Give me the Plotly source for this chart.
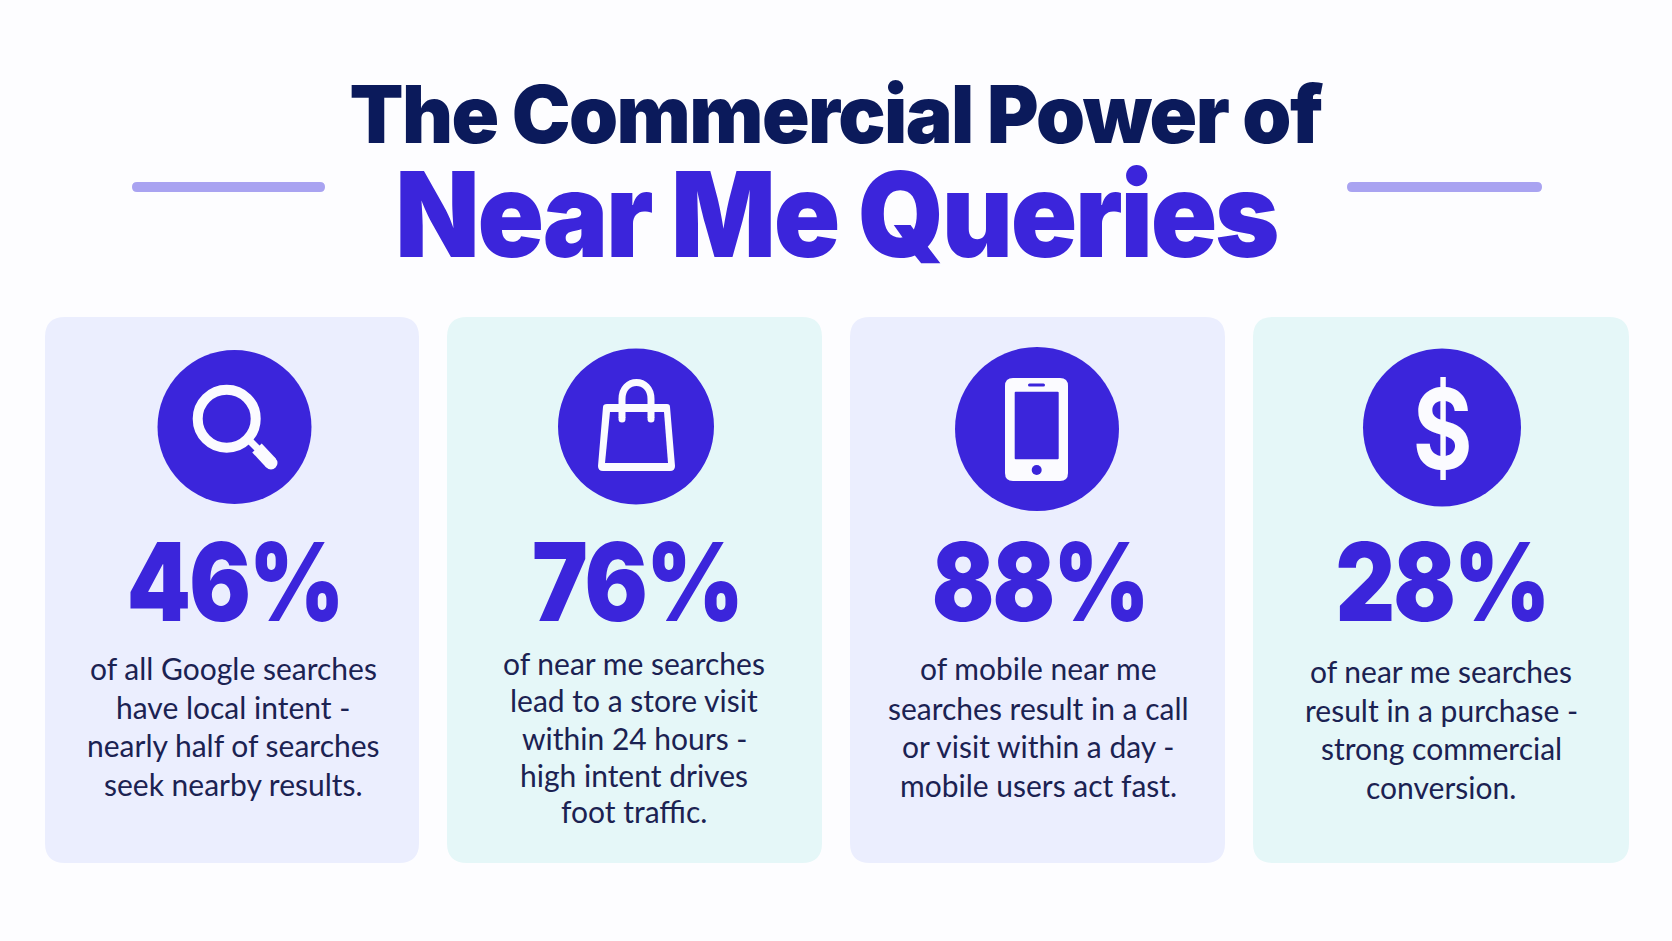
import json

import plotly.graph_objects as go

# chart content
title_top = 'The Commercial Power of'
title_main = 'Near Me Queries'
percents = ['46%', '76%', '88%', '28%']
card1_lines = ['of all Google searches', 'have local intent -', 'nearly half of searches', 'seek nearby results.']
card2_lines = ['of near me searches', 'lead to a store visit', 'within 24 hours -', 'high intent drives', 'foot traffic.']
card3_lines = ['of mobile near me', 'searches result in a call', 'or visit within a day -', 'mobile users act fast.']
card4_lines = ['of near me searches', 'result in a purchase -', 'strong commercial', 'conversion.']

# colours
BG = '#FDFDFF'
VIOLET = '#3B25DB'
NAVY = '#0B1A5B'
BODY = '#1B2252'
LILAC = '#A9A3F1'
CARD_A = '#EBEEFE'
CARD_B = '#E5F7F8'
WHITE = '#FBFBFF'

# layout, pixels of the 1672x941 page
W, H = 1672, 941
card_x = [(45, 419), (447, 822), (850, 1225), (1253, 1629)]
card_y = (317, 863)
card_fill = [CARD_A, CARD_B, CARD_A, CARD_B]
circles = [(234.5, 427, 77), (636, 426.5, 78), (1037, 429, 82), (1442, 427.5, 79)]
pct_x = [234, 637, 1039, 1442]
pct_w = [216, 210, 216, 213]
line_x = [233, 634, 1038, 1441]
line_y = [
    [668, 707, 745, 784],
    [663, 700, 738, 775, 811],
    [668, 708, 746, 785],
    [671, 710, 748, 787],
]
card_lines = [card1_lines, card2_lines, card3_lines, card4_lines]


def rounded_rect(x0, y0, x1, y1, r):
    return (f'M {x0 + r} {y0} L {x1 - r} {y0} Q {x1} {y0} {x1} {y0 + r} '
            f'L {x1} {y1 - r} Q {x1} {y1} {x1 - r} {y1} '
            f'L {x0 + r} {y1} Q {x0} {y1} {x0} {y1 - r} '
            f'L {x0} {y0 + r} Q {x0} {y0} {x0 + r} {y0} Z')


def fill_path(path, color):
    return dict(type='path', path=path, fillcolor=color, line_width=0, layer='between')


def disc(cx, cy, r, color):
    return dict(type='circle', x0=cx - r, x1=cx + r, y0=cy - r, y1=cy + r,
                fillcolor=color, line_width=0, layer='between')


def ring(cx, cy, r, width, color):
    return dict(type='circle', x0=cx - r, x1=cx + r, y0=cy - r, y1=cy + r,
                fillcolor='rgba(0,0,0,0)', line=dict(color=color, width=width), layer='between')


def stroke(path, width, color):
    return dict(type='path', path=path, fillcolor='rgba(0,0,0,0)',
                line=dict(color=color, width=width), layer='between')


shapes = []

# rules beside the heading
shapes.append(fill_path(rounded_rect(132, 182, 325, 192, 5), LILAC))
shapes.append(fill_path(rounded_rect(1347, 182, 1542, 192, 5), LILAC))

# cards and circles
for (x0, x1), fill in zip(card_x, card_fill):
    shapes.append(fill_path(rounded_rect(x0, card_y[0], x1, card_y[1], 20), fill))
for cx, cy, r in circles:
    shapes.append(disc(cx, cy, r, VIOLET))

# magnifier
shapes.append(ring(226.7, 418.7, 29, 10, WHITE))
shapes.append(stroke('M 249 440 L 260 451', 7, WHITE))
shapes.append(stroke('M 257 448 L 271 463', 13, WHITE))
shapes.append(disc(271, 463, 6.5, WHITE))

# bag
shapes.append(fill_path('M 607 404 L 667 404 Q 670 404 670 407 L 675 466 Q 675 471 670 471 '
                        'L 603 471 Q 598 471 598 466 L 603 407 Q 603 404 607 404 Z', WHITE))
shapes.append(fill_path('M 610 412 L 664 412 L 668 463 L 605 463 Z', VIOLET))
shapes.append(stroke('M 622 418 L 622 399 C 622 377 651 377 651 399 L 651 418', 7, WHITE))
shapes.append(disc(622, 419, 3.5, WHITE))
shapes.append(disc(651, 419, 3.5, WHITE))

# phone
shapes.append(fill_path(rounded_rect(1005, 378, 1068, 481, 8), WHITE))
shapes.append(fill_path(rounded_rect(1014.7, 391.7, 1058.7, 459.3, 1), VIOLET))
shapes.append(fill_path(rounded_rect(1028, 383.5, 1045, 386.5, 1.5), VIOLET))
shapes.append(disc(1036.7, 470, 5, VIOLET))

annotations = []


def add_text(text, x, y, size, color, family='Inter', weight=400):
    annotations.append(dict(text=text, x=x, y=y, xref='x', yref='y', showarrow=False,
                            xanchor='center', yanchor='middle',
                            font=dict(family=family, size=size, color=color, weight=weight)))


add_text(title_top, 835, 113, 80, NAVY, weight=900)
add_text(title_main, 836, 214, 118, VIOLET, weight=900)

for pct, x in zip(percents, pct_x):
    add_text(pct, x, 581, 108, VIOLET, weight=900)
add_text('$', 1441.5, 428, 112, WHITE, weight=700)

for lines, x, ys in zip(card_lines, line_x, line_y):
    for text, y in zip(lines, ys):
        add_text(text, x, y, 30, BODY, family='Lato')

fig = go.Figure()
fig.update_layout(
    width=W, height=H,
    margin=dict(l=0, r=0, t=0, b=0),
    paper_bgcolor=BG, plot_bgcolor=BG,
    xaxis=dict(range=[0, W], visible=False, fixedrange=True),
    yaxis=dict(range=[H, 0], visible=False, fixedrange=True),
    shapes=shapes,
    annotations=annotations,
    showlegend=False,
)

# the reference fonts are narrower than Inter, so fit each big text to its measured width
fit_width = {title_top: 972, title_main: 882, '$': 58}
fit_width.update(zip(percents, pct_w))
tighten = """
document.body.style.margin = '0';
var fit = %s;
document.querySelectorAll('.annotation-text').forEach(function (t) {
    var w = fit[t.textContent];
    if (w) {
        t.style.letterSpacing = '-0.02em';
        t.setAttribute('textLength', w);
        t.setAttribute('lengthAdjust', 'spacingAndGlyphs');
    }
});
""" % json.dumps(fit_width)
fig.write_html('out.html', config=dict(displayModeBar=False), post_script=tighten)
